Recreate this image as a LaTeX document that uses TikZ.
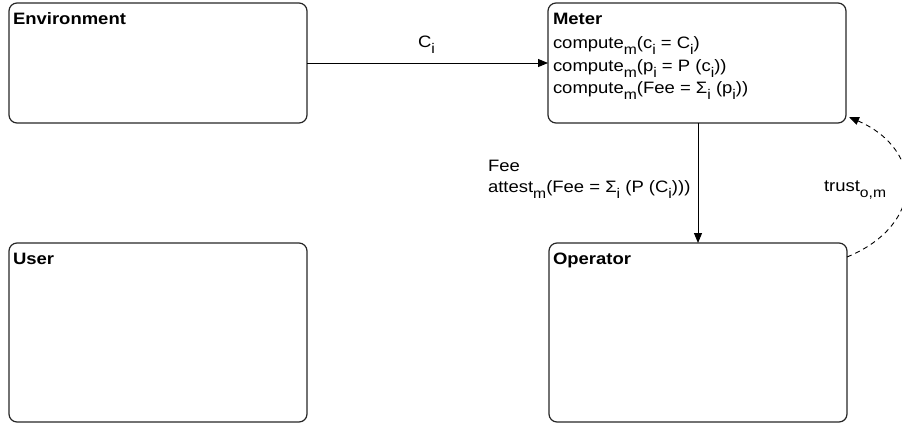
\documentclass[tikz,border=0pt]{standalone}
\usepackage{fontspec}
\setmainfont[FakeStretch=1.12]{Liberation Sans}
\usetikzlibrary{arrows.meta}
\newcommand\mysub[1]{\raisebox{-6.5pt}{\fontsize{14}{14}\selectfont #1}}
\newcommand\titletext[1]{{\bfseries #1}}
\tikzset{
  box/.style={draw=black!85, line width=1.2pt, rounded corners=8pt, outer sep=0pt, inner sep=0pt, minimum width=298pt},
  txt/.style={inner sep=0pt, outer sep=0pt, anchor=base west, font=\fontsize{16.5}{20}\selectfont},
  conn/.style={draw=black, line width=1pt, -{Triangle[length=10pt,width=8pt]}},
  dconn/.style={draw=black, line width=0.9pt, dash pattern=on 5pt off 4pt, -{Triangle[length=10pt,width=8pt]}}
}
\begin{document}
\begin{tikzpicture}[x=1pt,y=-1pt]
\useasboundingbox (0,0) rectangle (902,426);
% boxes
\node[box, minimum height=120pt, anchor=north west] (env) at (9,3) {};
\node[box, minimum height=120pt, anchor=north west] (meter) at (548,3) {};
\node[box, minimum height=179pt, anchor=north west] (user) at (9,243) {};
\node[box, minimum height=179pt, anchor=north west] (op) at (549,243) {};
% titles
\node[txt] (envt) at (13,24) {\titletext{Environment}};
\node[txt] (metert) at (553,24) {\titletext{Meter}};
\node[txt] (usert) at (13,264) {\titletext{User}};
\node[txt] (opt) at (553,264) {\titletext{Operator}};
% meter lines
\node[txt] (m1) at (553,48) {compute\mysub{m}(c\mysub{i} = C\mysub{i})};
\node[txt] (m2) at (553,71) {compute\mysub{m}(p\mysub{i} = P (c\mysub{i}))};
\node[txt] (m3) at (553,93) {compute\mysub{m}(Fee = Σ\mysub{i} (p\mysub{i}))};
% connectors
\draw[conn] (env.east) -- (meter.west);
\node[txt] (cl) at (418,47) {C\mysub{i}};
\draw[conn] (op.north |- meter.south) -- (op.north);
\node[txt] (fee) at (488,171) {Fee};
\node[txt] (att) at (488,192) {attest\mysub{m}(Fee = Σ\mysub{i} (P (C\mysub{i})))};
\coordinate (ds) at ([yshift=-14pt]op.north east);
\coordinate (de) at ([xshift=3pt,yshift=6pt]meter.south east);
\draw[dconn] (ds) .. controls (925,225) and (925,150) .. (de);
\node[txt] (tr) at (824,191) {trust\mysub{o,m}};
\end{tikzpicture}
\end{document}
